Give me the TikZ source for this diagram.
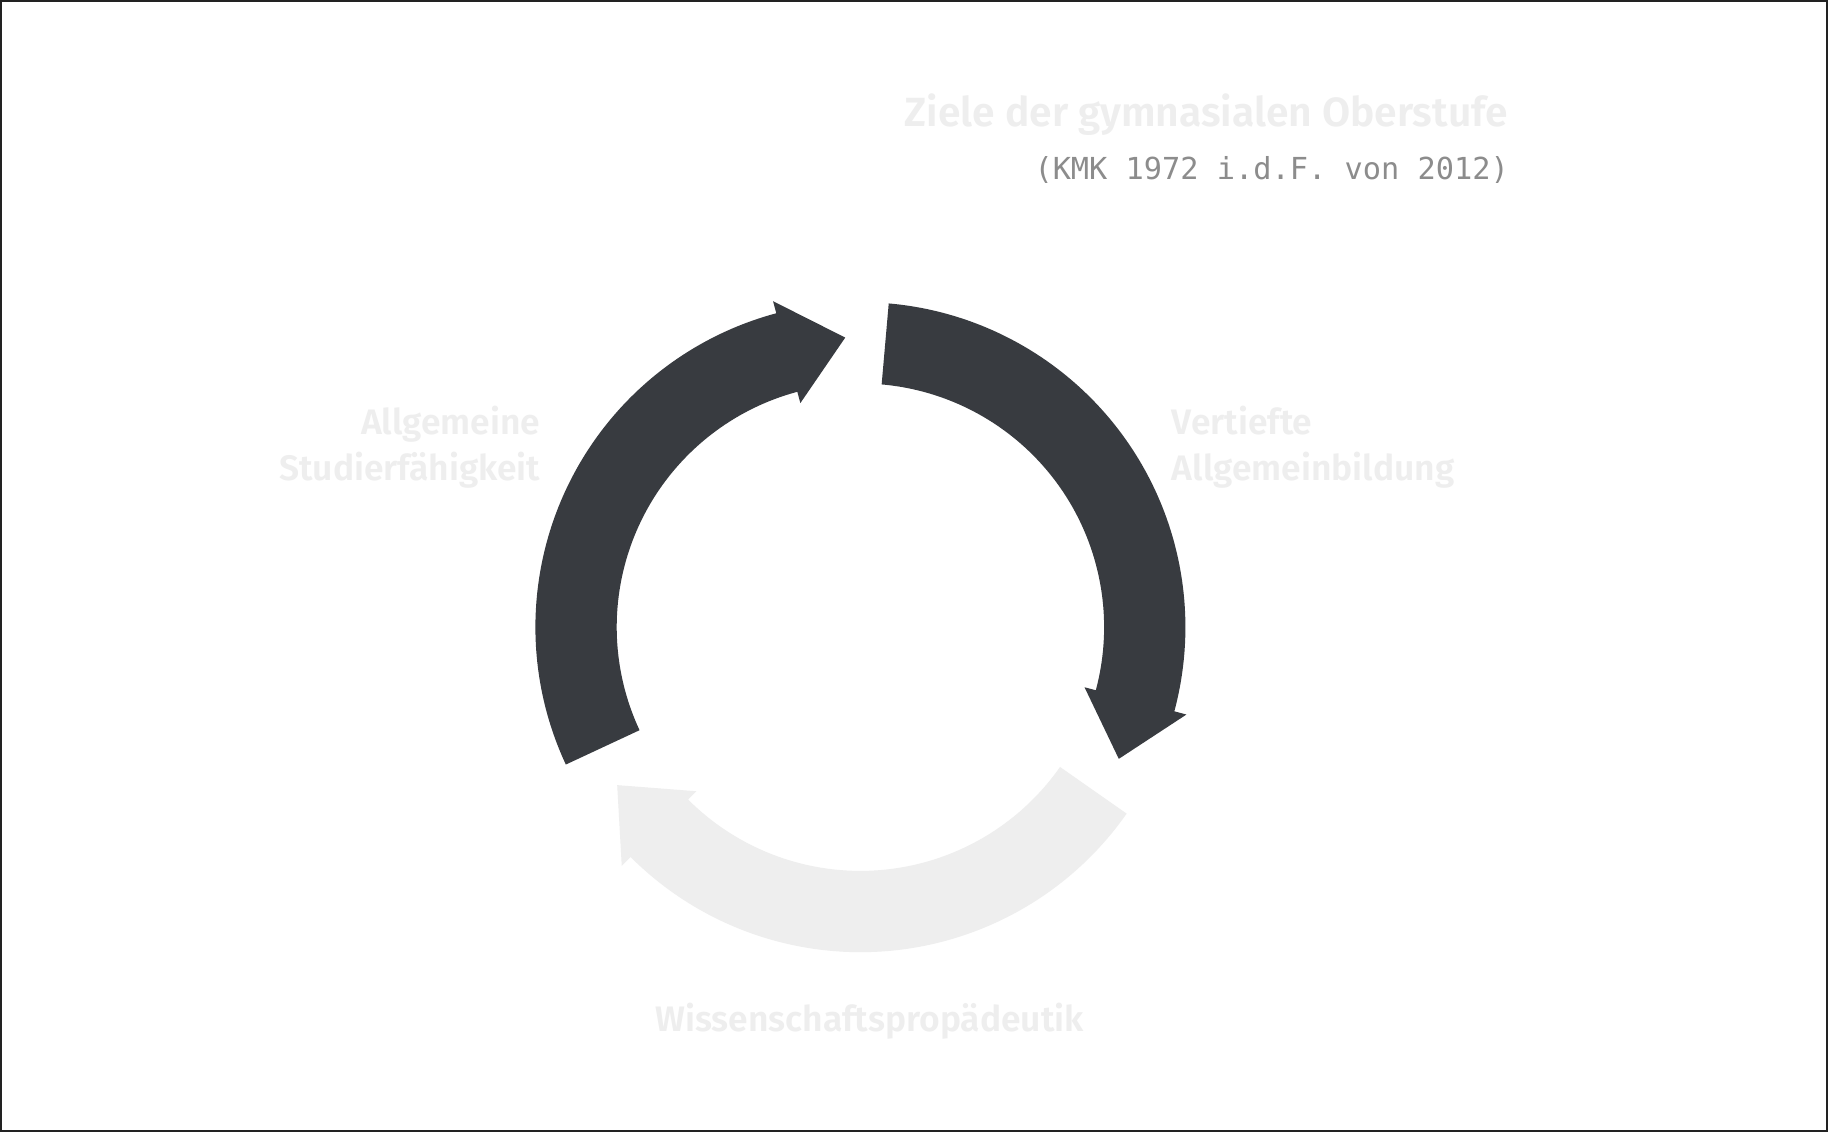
\documentclass[tikz,border=0pt]{standalone}
\usepackage{fontspec}
\setmainfont{Fira Sans}
\newfontfamily\labelfont{Fira Sans SemiBold}
\newfontfamily\submono{DejaVu Sans Mono}
\usetikzlibrary{calc}
\definecolor{arcdark}{HTML}{383B40}
\definecolor{arclight}{HTML}{EEEEEE}
\definecolor{labelgray}{HTML}{EEEEEE}
\definecolor{subgray}{HTML}{8C8C8C}
\definecolor{framecol}{HTML}{222222}
\newcommand\cyclearrow[2]{%
  \fill[#2] ($(c)+(#1:325pt)$) arc[start angle=#1, delta angle=-100, radius=325pt]
    -- ($(c)+({#1-100}:337.5pt)$) -- ($(c)+({#1-112}:290pt)$)
    -- ($(c)+({#1-100}:232pt)$) -- ($(c)+({#1-100}:243.7pt)$)
    arc[start angle={#1-100}, delta angle=100, radius=243.7pt] -- cycle;}
\begin{document}
\begin{tikzpicture}[x=1pt,y=1pt,
  labeltext/.style={font=\labelfont\fontsize{35.4}{43}\selectfont, text=labelgray, inner sep=0pt},
  titletext/.style={font=\labelfont\fontsize{40.8}{49}\selectfont, text=labelgray, inner sep=0pt},
  subtext/.style={font=\submono\fontsize{30.3}{36}\selectfont, text=subgray, inner sep=0pt}]
\useasboundingbox (0,0) rectangle (1828,1132);
\fill[white] (0,0) rectangle (1828,1132);
\draw[framecol, line width=2.4pt] (1.2,1.2) rectangle (1826.8,1130.8);
\coordinate (c) at (860.4,504.8);
\cyclearrow{85}{arcdark}
\cyclearrow{205}{arcdark}
\cyclearrow{325}{arclight}
\node[titletext, anchor=base east] (title) at (1508,1005.3) {Ziele der gymnasialen Oberstufe};
\node[subtext, anchor=base east] (sub) at (1509,952.7) {(KMK 1972 i.d.F. von 2012)};
\node[labeltext, anchor=base east] (l1) at (540.5,697) {Allgemeine};
\node[labeltext, anchor=base east] (l2) at (540.5,651.3) {Studierfähigkeit};
\node[labeltext, anchor=base west] (r1) at (1171.7,697) {Vertiefte};
\node[labeltext, anchor=base west] (r2) at (1171.7,651.3) {Allgemeinbildung};
\node[labeltext, anchor=base] (b1) at (869.5,100.3) {Wissenschaftspropädeutik};
\end{tikzpicture}
\end{document}
